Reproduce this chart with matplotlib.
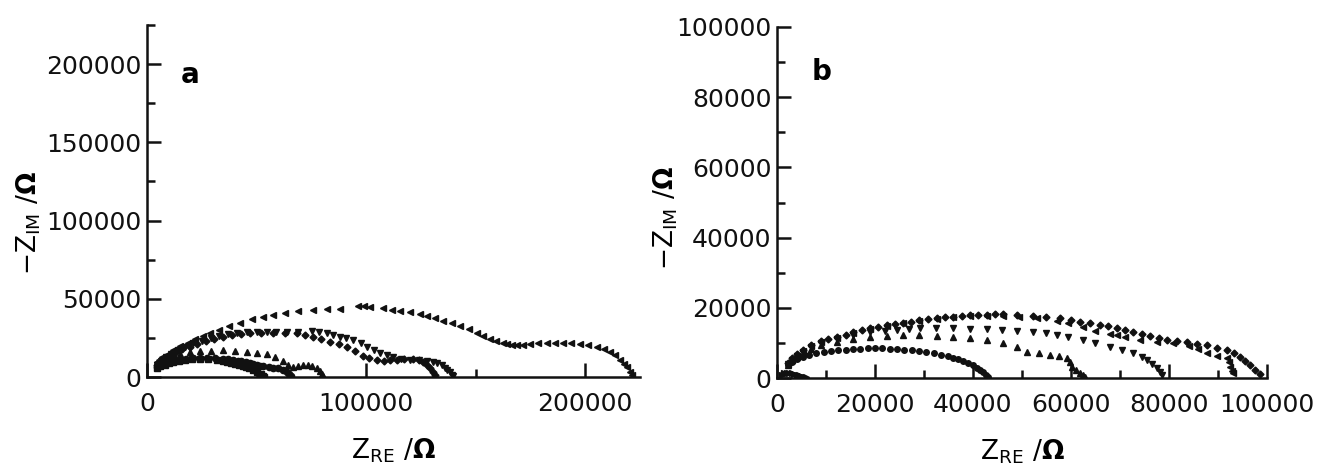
import matplotlib
matplotlib.use('Agg')
import matplotlib.pyplot as plt
from matplotlib.ticker import MultipleLocator

# panel a data (Z_RE, -Z_IM in ohm)
a_left_x = [4600, 7000, 9500, 12000, 15100, 18500, 22000, 25500, 28800, 33000, 37500, 42500, 48000, 53000,
            57500, 63000, 69000, 75800, 82000, 88100, 96300, 99000, 101800, 107800, 112000, 115500, 120100,
            124500, 127900, 131500, 135200, 139000, 142900, 147000, 150700, 153500, 156600, 159500, 162600,
            164500, 166500, 169000, 171500, 174900, 178500, 182600, 186000, 190000, 193500, 197700, 201500,
            205500, 208500, 211400, 213500, 216000, 217800, 219200, 220500, 221500]
a_left_y = [9600, 12500, 15000, 17500, 19800, 22000, 24000, 26000, 28000, 30300, 32500, 34600, 36800, 38500,
            39800, 41200, 42200, 43000, 43400, 43600, 45500, 45300, 44900, 44200, 43000, 42300, 41700,
            40300, 39100, 37500, 35900, 34300, 32700, 30500, 28200, 26300, 24400, 23000, 21800,
            21000, 20600, 20500, 20700, 21200, 21500, 21800, 22000, 21800, 21500, 21200, 20500,
            19200, 17800, 16000, 14200, 10900, 8500, 6200, 3200, 1500]

a_down_x = [4600, 6500, 8500, 11000, 14000, 17500, 21000, 25000, 29000, 33000, 37000, 41000, 45500, 50000,
            54800, 59000, 63900, 69000, 75300, 78500, 82200, 85000, 88100, 91000, 94100, 97500, 100500,
            103500, 106400, 109500, 112300, 116000, 120100, 124000, 127900, 130500, 132400, 134500, 136000,
            137000, 138200, 139200, 139700]
a_down_y = [8000, 10500, 12800, 15000, 17300, 19500, 21500, 23300, 25000, 26300, 27300, 28000, 28500, 28800,
            28800, 29000, 28800, 29000, 29500, 28800, 28200, 27000, 25600, 24700, 23700, 21500, 19200,
            17300, 15400, 13800, 12800, 11500, 10900, 10600, 10300, 9700, 9000, 7700, 6000,
            4500, 3000, 1500, 600]

a_dia_x = [4600, 6000, 8000, 10500, 13000, 16000, 19600, 23000, 27000, 30500, 34700, 39000, 43000, 47000,
           52000, 57500, 63000, 68500, 72000, 75800, 79500, 83600, 87500, 91300, 95000, 98600, 101500,
           105000, 108000, 111000, 114200, 117500, 121500, 124000, 126000, 127800, 129200, 130500, 131500]
a_dia_y = [7700, 9500, 11800, 14000, 16000, 17800, 19200, 21000, 22800, 24200, 25600, 26800, 27600, 28200,
           28300, 28200, 28300, 28200, 27000, 25600, 24000, 22400, 20800, 19200, 16500, 13500, 12000,
           10900, 10500, 10700, 10900, 11200, 11500, 10800, 9600, 7800, 5800, 3500, 1300]

a_up_x = [4600, 6000, 8000, 10000, 12500, 15000, 19600, 24000, 29000, 34700, 40000, 45700, 50000, 54800,
          58500, 62100, 64500, 66700, 69000, 71200, 73500, 75500, 77600, 79000, 80000, 80400]
a_up_y = [9600, 10800, 12000, 13000, 14000, 14800, 15800, 16500, 16900, 17000, 16800, 16300, 15500, 14500,
          12500, 10000, 8000, 6500, 6800, 7500, 7700, 7200, 5800, 3800, 1800, 500]

a_circ_x = [4600, 6000, 8000, 10000, 12500, 15100, 18000, 21000, 24000, 27400, 31000, 34500, 37000, 39300,
            41500, 43000, 45000, 47000, 48500, 50000, 51500, 53000, 55500, 57500, 60000, 62100, 63800, 65000, 65800]
a_circ_y = [6400, 7600, 8800, 9800, 10500, 11000, 11500, 11900, 12100, 12200, 12000, 11600, 11300, 10900,
            10400, 10000, 9500, 9000, 8500, 7900, 7300, 6800, 6200, 5900, 5600, 4800, 3500, 2000, 600]

a_sq_x = [4600, 6000, 8000, 10000, 11900, 14500, 17500, 20500, 24200, 28000, 32000, 34500, 36500, 38500, 40000,
          42000, 43800, 45200, 46500, 48500, 50200, 51800, 53000, 53600]
a_sq_y = [5800, 6800, 7900, 8800, 9600, 10300, 10900, 11300, 11500, 11400, 10800, 10200, 9600, 9000, 8500,
          7800, 7000, 6400, 5800, 4600, 3200, 2000, 900, 200]

# panel b data
b_dia_x = [2200, 3000, 4000, 5300, 7000, 9000, 10500, 12200, 14000, 15500, 17300, 19000, 20700, 22500, 24000,
           25700, 27300, 29000, 30800, 32700, 34300, 36000, 37700, 39400, 41000, 42800, 44500, 46100, 49000,
           52300, 55000, 57800, 60000, 61800, 63800, 65900, 67500, 69400, 71000, 72700, 74500, 76100, 78000,
           79600, 81700, 83700, 85700, 87800, 89800, 91800, 93300, 94500, 95500, 96500, 97600, 98600]
b_dia_y = [4300, 5600, 6800, 8000, 9300, 10500, 11100, 11700, 12400, 13000, 13600, 14200, 14600, 15000, 15300,
           15700, 16100, 16400, 16800, 17100, 17300, 17500, 17700, 17900, 18000, 18100, 18200, 18200, 18000,
           17700, 17400, 17100, 16600, 16000, 15600, 15100, 14700, 14200, 13700, 13100, 12500, 12000, 11400,
           10800, 10500, 10300, 9800, 9400, 8700, 8000, 7100, 6000, 4900, 3700, 2400, 1100]

b_left_x = [2200, 3000, 4000, 5300, 7000, 9000, 12200, 15500, 19000, 22500, 25700, 29000, 32700, 36000,
            39400, 42800, 46100, 49500, 53000, 57100, 59500, 62400, 65000, 68000, 69500, 71000, 74100, 77500,
            80800, 84000, 86000, 87800, 89800, 91800, 92200, 92400, 92800, 93100]
b_left_y = [4000, 5200, 6400, 7700, 9000, 10200, 11500, 12800, 13900, 14800, 15600, 16300, 16900, 17300,
            17600, 17800, 17800, 17500, 17000, 16300, 15800, 14500, 13500, 12500, 12300, 11600, 10800, 10300,
            10000, 9200, 8300, 7100, 6300, 5700, 4500, 3100, 2100, 1400]

b_down_x = [2200, 3000, 4000, 5300, 7000, 9000, 12200, 15500, 19000, 22000, 24500, 27000, 29200, 32500,
            35900, 39500, 42900, 46000, 49000, 52200, 55000, 57100, 59500, 62400, 65000, 68000, 70500,
            72700, 74500, 75500, 76600, 77600, 78200, 78600]
b_down_y = [4000, 5200, 6300, 7500, 8800, 9900, 11000, 12200, 13000, 13500, 13700, 14000, 14200, 14200,
            14200, 14100, 14000, 13700, 13400, 13100, 12700, 12200, 11600, 10800, 9900, 8800, 7900,
            7100, 6100, 5100, 4000, 2800, 1800, 900]

b_up_x = [2200, 3000, 4000, 5300, 7000, 9000, 12200, 15500, 19000, 22500, 25700, 29000, 32700, 36000, 39400,
          42800, 46100, 49000, 51000, 53500, 55700, 57500, 59200, 59800, 60200, 61000, 61800, 62400, 62900]
b_up_y = [3800, 5000, 6000, 7100, 8200, 9300, 10400, 11200, 11700, 12000, 12200, 12200, 12000, 11700, 11400,
          10800, 10000, 8800, 7400, 7000, 6600, 6200, 5700, 4500, 3100, 2200, 1400, 800, 300]

b_circ_x = [2200, 3000, 4000, 5300, 6500, 8000, 9500, 11000, 12500, 14000, 15500, 17000, 18500, 20000, 21500,
            23000, 24500, 26000, 27500, 29000, 30500, 32000, 33500, 35000, 36000, 37000, 38000, 39000,
            40000, 40800, 41500, 42000, 42600, 43100]
b_circ_y = [3700, 4600, 5300, 6000, 6500, 7000, 7300, 7600, 7900, 8100, 8300, 8400, 8500, 8500, 8500,
            8400, 8300, 8100, 7900, 7600, 7300, 7000, 6600, 6200, 5800, 5400, 4900, 4400,
            3700, 3000, 2300, 1600, 900, 200]

b_small_x = [1000, 1500, 2000, 2500, 3000, 3500, 4000, 4500, 5000, 5500, 6000]
b_small_y = [800, 1300, 1500, 1500, 1400, 1200, 1000, 800, 600, 400, 200]

plt.rcParams['font.family'] = 'DejaVu Sans'
plt.rcParams['mathtext.fontset'] = 'dejavusans'

fig = plt.figure(figsize=(13.2, 4.65), dpi=100)
ax_a = fig.add_axes([0.1114, 0.1892, 0.3734, 0.757])
ax_b = fig.add_axes([0.5886, 0.187, 0.3712, 0.755])

k = '#111111'
ax_a.plot(a_left_x, a_left_y, '<', color=k, ms=5, ls='none')
ax_a.plot(a_down_x, a_down_y, 'v', color=k, ms=5, ls='none')
ax_a.plot(a_dia_x, a_dia_y, 'D', color=k, ms=3.5, ls='none')
ax_a.plot(a_up_x, a_up_y, '^', color=k, ms=5, ls='none')
ax_a.plot(a_circ_x, a_circ_y, 'o', color=k, ms=4.5, ls='none')
ax_a.plot(a_sq_x, a_sq_y, 's', color=k, ms=4, ls='none')

ax_b.plot(b_dia_x, b_dia_y, 'D', color=k, ms=3.5, ls='none')
ax_b.plot(b_left_x, b_left_y, '<', color=k, ms=4.5, ls='none')
ax_b.plot(b_down_x, b_down_y, 'v', color=k, ms=4.5, ls='none')
ax_b.plot(b_up_x, b_up_y, '^', color=k, ms=4.5, ls='none')
ax_b.plot(b_circ_x, b_circ_y, 'o', color=k, ms=4, ls='none')
ax_b.plot(b_small_x, b_small_y, '>', color=k, ms=4, ls='none')

ax_a.set_xlim(0, 225000)
ax_a.set_ylim(0, 225000)
ax_a.xaxis.set_major_locator(MultipleLocator(100000))
ax_a.xaxis.set_minor_locator(MultipleLocator(50000))
ax_a.yaxis.set_major_locator(MultipleLocator(50000))
ax_a.yaxis.set_minor_locator(MultipleLocator(25000))

ax_b.set_xlim(0, 100000)
ax_b.set_ylim(0, 100000)
ax_b.xaxis.set_major_locator(MultipleLocator(20000))
ax_b.xaxis.set_minor_locator(MultipleLocator(10000))
ax_b.yaxis.set_major_locator(MultipleLocator(20000))
ax_b.yaxis.set_minor_locator(MultipleLocator(10000))

for ax in (ax_a, ax_b):
    for s in ('top', 'right'):
        ax.spines[s].set_visible(False)
    for s in ('left', 'bottom'):
        ax.spines[s].set_linewidth(1.8)
        ax.spines[s].set_color(k)
    ax.tick_params(which='both', direction='in', width=1.8, colors=k, labelsize=18)
    ax.tick_params(which='major', length=10)
    ax.tick_params(which='minor', length=6)
    ax.tick_params(axis='y', pad=4)
    ax.tick_params(axis='x', pad=11)
    ax.set_xlabel(r'$\mathrm{Z}_{\mathrm{RE}}\ /\mathbf{\Omega}$', fontsize=19, va='top')
    ax.set_ylabel(r'$\mathrm{-Z}_{\mathrm{IM}}\ /\mathbf{\Omega}$', fontsize=19, va='bottom')

ax_a.xaxis.set_label_coords(0.5, -0.17)
ax_b.xaxis.set_label_coords(0.5, -0.17)
ax_a.yaxis.set_label_coords(-0.211, 0.4375)
ax_b.yaxis.set_label_coords(-0.198, 0.456)

fig.text(0.1439, 0.8215, 'a', fontsize=20, fontweight='bold', family='DejaVu Sans',
         ha='center', va='baseline')
fig.text(0.6227, 0.828, 'b', fontsize=20, fontweight='bold', family='DejaVu Sans',
         ha='center', va='baseline')

fig.savefig('out.png', dpi=100)
